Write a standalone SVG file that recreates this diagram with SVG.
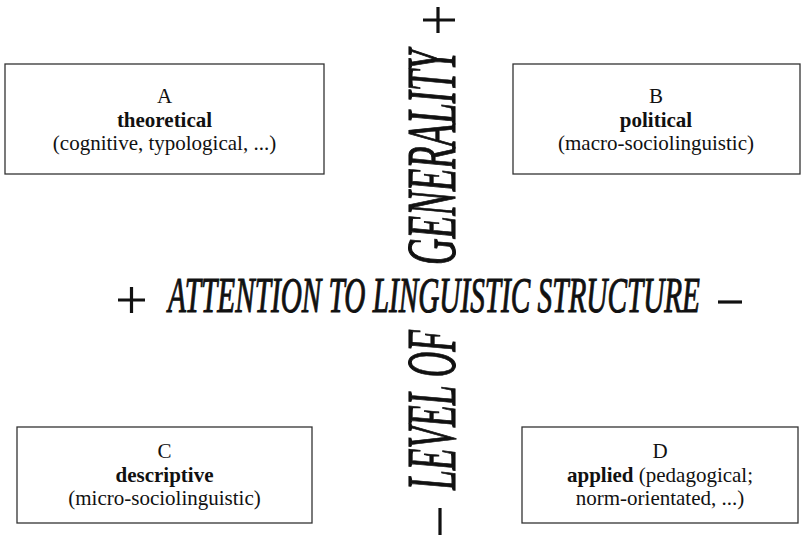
<svg xmlns="http://www.w3.org/2000/svg" width="804" height="536" viewBox="0 0 804 536">
<style>
.box{fill:#fff;stroke:#333;stroke-width:1.3}
.t{font-family:'Liberation Serif','Times New Roman',Times,'DejaVu Serif','Noto Serif',serif;font-size:21px;fill:#111;text-anchor:middle}
.b{font-weight:bold}
.axis{font-family:'Liberation Serif','Times New Roman',Times,'DejaVu Serif','Noto Serif',serif;font-style:italic;fill:#111;stroke:#111;stroke-width:0.9;vector-effect:non-scaling-stroke}
.sign{stroke:#111;stroke-width:3.2;fill:none}
</style>
<rect width="804" height="536" fill="#fff"/>
<g id="nodeA">
<rect class="box" x="5" y="64" width="319" height="110"/>
<text class="t" x="164.5" y="103">A</text>
<text class="t b" x="164.5" y="127">theoretical</text>
<text class="t" x="164.5" y="150">(cognitive, typological, ...)</text>
</g>
<g id="nodeB">
<rect class="box" x="513" y="64" width="287" height="110"/>
<text class="t" x="656" y="103">B</text>
<text class="t b" x="656" y="127">political</text>
<text class="t" x="656" y="150">(macro-sociolinguistic)</text>
</g>
<g id="nodeC">
<rect class="box" x="17" y="427" width="295" height="96"/>
<text class="t" x="164.5" y="458">C</text>
<text class="t b" x="164.5" y="482">descriptive</text>
<text class="t" x="164.5" y="505">(micro-sociolinguistic)</text>
</g>
<g id="nodeD">
<rect class="box" x="522" y="427" width="276" height="96"/>
<text class="t" x="660" y="458">D</text>
<text class="t" x="660" y="482"><tspan class="b">applied</tspan> (pedagogical;</text>
<text class="t" x="660" y="505">norm-orientated, ...)</text>
</g>
<g id="axes">
<text class="axis" transform="translate(168,312) scale(0.5714,1)" x="0" y="0" font-size="51" textLength="931" lengthAdjust="spacingAndGlyphs">ATTENTION TO LINGUISTIC STRUCTURE</text>
<text class="axis" transform="translate(455,490) rotate(-90) scale(0.5047,1)" x="0" y="0" font-size="70" textLength="317" lengthAdjust="spacingAndGlyphs">LEVEL OF</text>
<text class="axis" transform="translate(455,265) rotate(-90) scale(0.527,1)" x="0" y="0" font-size="70" textLength="408" lengthAdjust="spacingAndGlyphs">GENERALITY</text>
<path class="sign" d="M118,300 H145 M131.5,287 V313"/>
<path class="sign" d="M718,302 H742"/>
<path class="sign" d="M423,20 H455 M438,7 V33"/>
<path class="sign" d="M440,508 V535" stroke-width="4"/>
</g>
</svg>
